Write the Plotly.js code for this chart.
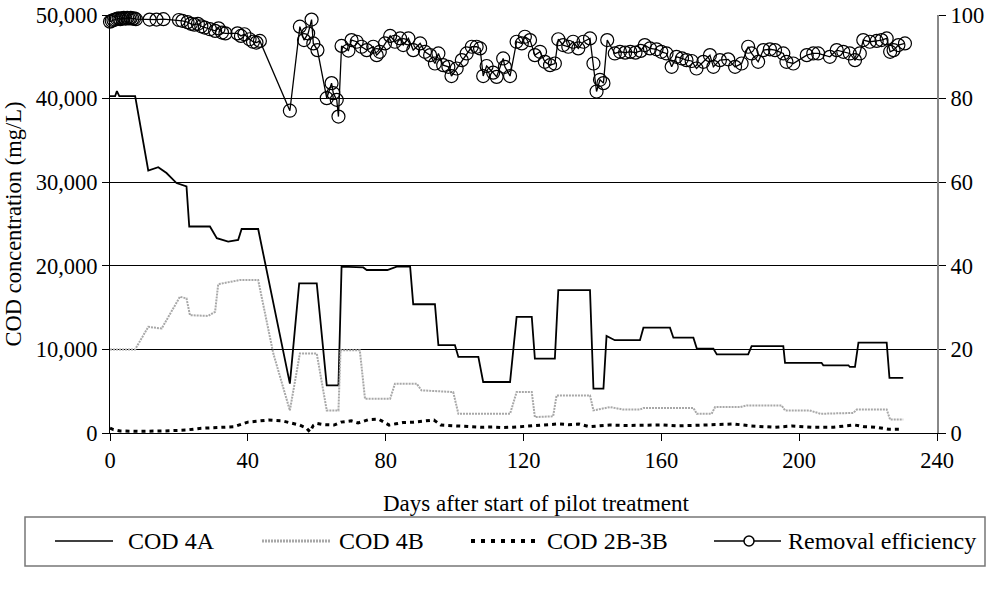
<!DOCTYPE html>
<html>
<head>
<meta charset="utf-8">
<script src="https://cdn.plot.ly/plotly-3.0.1.min.js"></script>
<style>html,body{margin:0;padding:0;background:#fff;}#chart{width:993px;height:592px;}</style>
</head>
<body>
<div id="chart"></div>
<script>
// ---- Data ----
const cod4A_days = [0,1.5,2,2.7,7.3,11.1,14.0,16.4,19.3,20.8,22.2,23.0,29.0,31.0,34.3,37.2,38.2,43.0,52.2,54.9,60.0,62.9,66.3,67.2,73.5,74.5,80.5,83.2,87.1,88.0,94.3,95.3,100.1,101.1,106.9,108.3,116.1,118.0,122.4,123.3,129.1,130.1,139.3,140.3,143.2,144.1,146.5,153.8,154.8,162.5,163.5,169.3,170.3,175.1,176.1,185.2,186.2,195.4,195.9,206.5,207.0,214.3,214.7,216.2,217.2,225.4,226.2,230.2];
const cod4A_vals = [40300,40300,40900,40300,40300,31400,31800,31100,29900,29700,29500,24700,24700,23300,22900,23100,24400,24400,5900,17900,17900,5700,5700,19900,19800,19500,19500,19900,19900,15400,15400,10500,10500,9100,9100,6100,6100,13900,13900,8900,8900,17100,17100,5300,5300,11600,11100,11100,12600,12600,11400,11400,10100,10100,9400,9400,10400,10400,8400,8400,8100,8100,7900,7900,10800,10800,6600,6600];

const cod4B_days = [0,7.3,11.1,15.0,20.3,22.2,23.2,28.5,30.5,31.4,37.7,43.0,47.4,52.2,55.1,60.0,62.9,66.3,66.9,72.5,74.0,81.3,82.7,89.0,90.4,99.6,101.1,116.1,118.0,122.4,123.3,128.6,129.6,139.3,140.3,143.2,145.1,149.0,153.8,154.8,169.3,170.3,174.6,175.6,182.8,184.8,194.9,195.9,203.0,206.2,215.7,216.7,225.4,226.4,230.2];
const cod4B_vals = [10000,10000,12700,12500,16300,16100,14100,14000,14500,17800,18300,18300,9500,2700,9500,9500,2700,2700,9900,9900,4100,4100,5900,5900,5100,4900,2300,2300,4900,4900,1900,2000,4500,4500,2700,2900,3100,2800,2800,3000,3000,2300,2300,3100,3100,3300,3300,2700,2700,2300,2400,2800,2800,1600,1600];

const cod2B3B_days = [0,1,3,8,16,22,26,30,36,40,43,46,50,53,55,57,58,59,60,62,65,67,70,72,75,78,81,83,85,88,91,94,96,99,102,105,108,111,114,117,120,124,127,130,133,136,139,142,145,150,155,160,165,170,175,181,186,190,193,198,201,204,210,213,216,219,222,226,230];
const cod2B3B_vals = [600,400,250,200,250,350,550,650,750,1300,1450,1550,1450,1150,950,600,150,900,1150,1000,950,1300,1450,1200,1600,1650,950,1100,1250,1300,1400,1550,950,900,850,750,680,720,650,700,780,850,950,1080,1000,1080,760,880,950,900,950,960,850,900,950,1080,850,750,680,840,750,680,700,800,960,750,700,450,450];

const eff_days = [0,0.5,1,1.5,2,2.5,3,3.5,4,4.5,5,5.5,6,6.5,7,7.5,11.5,13.5,15.5,20,21,22.5,23.5,24.5,25.5,26.5,27.5,29,30.5,31.5,32.5,33.5,37,38,39,40.5,41.5,42.5,43.5,52.2,55.1,56.3,57.5,58.5,59.0,60.2,62.9,64.3,64.8,65.8,66.3,67.2,69.2,70.1,71.6,73.0,74.5,76.4,77.4,78.3,79.8,81.3,82.7,84.2,85.1,86.6,88.0,90.0,91.4,92.9,94.3,95.3,96.7,98.2,99.1,100.6,102.1,103.5,105.0,106.4,107.4,108.3,109.3,111.2,112.2,114.1,114.6,116.1,118.0,119.5,120.4,121.9,123.3,124.8,126.2,127.7,129.1,130.1,131.5,133.0,134.4,135.9,137.4,139.3,140.3,141.2,142.2,143.2,144.3,146.5,148,149.5,151,152.5,154,155.2,156.7,158.6,160,161.5,163.0,164.4,166,167.3,168.8,170.2,172.2,174.1,175.1,177.0,179.4,181.4,183.3,185.2,186.2,188.1,189.6,191.5,193.0,195.4,196.3,198.3,202.2,204.1,205.5,208.9,210.9,212.8,214.7,216.2,217.6,218.6,220.5,222.5,223.9,225.4,226.4,227.4,228.8,230.7];
const eff_vals = [98.4,98.6,98.8,98.9,99.1,99.2,99.0,99.2,99.3,99.1,99.3,99.2,99.3,99.1,99.2,99.0,98.9,98.9,99.0,98.8,98.6,98.3,97.9,97.7,97.9,97.3,97.0,96.6,96.2,96.8,95.8,95.6,95.6,95.0,95.4,94.2,93.6,93.4,93.8,77.1,97.2,94.0,95.6,98.9,93.2,91.6,80.1,83.7,81.3,79.7,75.7,92.6,91.5,94.0,93.6,92.4,91.6,92.4,90.4,91.2,93.2,95.0,93.6,94.4,92.8,94.4,91.6,93.2,91.2,90.4,88.4,90.8,88.0,87.6,85.4,87.2,89.2,90.8,92.4,92.4,92.0,85.4,87.8,86.2,85.2,89.6,87.6,85.4,93.6,93.2,94.8,94.0,90.4,91.2,88.8,88.0,88.4,94.2,92.8,92.4,93.6,92.0,93.6,94.4,88.4,81.7,84.5,83.7,94.0,90.8,91.2,91.0,91.2,91.0,91.4,92.8,92.0,91.8,91.2,90.8,87.6,90.0,89.6,89.2,89.0,87.2,88.8,90.4,87.6,89.2,89.4,87.6,88.4,92.4,90.8,88.8,91.6,91.8,91.6,90.8,88.8,88.4,90.4,90.8,90.8,90.0,91.6,91.2,90.8,89.2,90.8,94.0,93.6,93.8,94.0,94.4,91.2,91.6,92.8,93.2];

const seriesNames = ["COD 4A","COD 4B","COD 2B-3B","Removal efficiency"];
const xTitle = "Days after start of pilot treatment";
const yTitle = "COD concentration (mg/L)";

// ---- Plot ----
const FONT = "'Liberation Serif', 'Times New Roman', Times, serif";
const FS = 22.5;
const W = 993, H = 592, L = 110, R = 56, T = 15, B = 159;
const pw = W - L - R, ph = H - T - B;
const px = x => (x - L) / pw;          // pixel -> paper x
const py = y => (H - B - y) / ph;      // pixel -> paper y

const traces = [
  {x: cod4A_days, y: cod4A_vals, name: seriesNames[0], type: 'scatter', mode: 'lines',
   line: {color: '#000', width: 1.8}, showlegend: false},
  {x: cod4B_days, y: cod4B_vals, name: seriesNames[1], type: 'scatter', mode: 'lines',
   line: {color: '#a8a8a8', width: 2, dash: '2px,1px'}, showlegend: false},
  {x: cod2B3B_days, y: cod2B3B_vals, name: seriesNames[2], type: 'scatter', mode: 'lines',
   line: {color: '#000', width: 3, dash: '4px,4px'}, showlegend: false},
  {x: eff_days, y: eff_vals, name: seriesNames[3], type: 'scatter', mode: 'lines+markers', yaxis: 'y2',
   cliponaxis: false,
   line: {color: '#000', width: 1.3},
   marker: {symbol: 'circle-open', size: 13, color: '#000', line: {width: 1.2, color: '#000'}},
   showlegend: false}
];

// manual legend (box, samples, labels)
const legY = py(541);
const shapes = [
  {type: 'rect', xref: 'paper', yref: 'paper', x0: px(25), x1: px(985), y0: py(566), y1: py(517),
   line: {color: '#777', width: 1.5}, fillcolor: 'rgba(0,0,0,0)'},
  {type: 'line', xref: 'paper', yref: 'paper', x0: px(55), x1: px(113), y0: legY, y1: legY,
   line: {color: '#000', width: 1.5}},
  {type: 'line', xref: 'paper', yref: 'paper', x0: px(262), x1: px(331), y0: legY, y1: legY,
   line: {color: '#a8a8a8', width: 3, dash: '2px,1px'}},
  {type: 'line', xref: 'paper', yref: 'paper', x0: px(471), x1: px(540), y0: legY, y1: legY,
   line: {color: '#000', width: 4, dash: '4px,6px'}},
  {type: 'line', xref: 'paper', yref: 'paper', x0: px(714), x1: px(781), y0: legY, y1: legY,
   line: {color: '#000', width: 1.5}},
  {type: 'circle', xref: 'paper', yref: 'paper', xsizemode: 'pixel', ysizemode: 'pixel',
   xanchor: px(749), yanchor: legY, x0: -5, x1: 5, y0: -5, y1: 5,
   line: {color: '#000', width: 1.5}, fillcolor: '#fff'}
];
const legTextX = [126, 337, 545, 786];
const annotations = seriesNames.map((n, i) => ({
  text: n, xref: 'paper', yref: 'paper', x: px(legTextX[i]), y: legY,
  xanchor: 'left', yanchor: 'middle', showarrow: false,
  font: {family: FONT, size: 24, color: '#000'}
}));
// x-axis title (placed slightly right of centre, as in the reference)
annotations.push({
  text: xTitle, xref: 'paper', yref: 'paper', x: px(536), y: py(503),
  xanchor: 'center', yanchor: 'middle', showarrow: false,
  font: {family: FONT, size: 23, color: '#000'}
});

const layout = {
  width: W, height: H,
  margin: {l: L, r: R, t: T, b: B, pad: 0},
  paper_bgcolor: '#fff', plot_bgcolor: '#fff',
  font: {family: FONT, size: FS, color: '#000'},
  showlegend: false,
  xaxis: {
    range: [0, 240], tick0: 0, dtick: 40, ticks: 'outside', ticklen: 7, tickcolor: '#000',
    showline: true, linecolor: '#000', linewidth: 1, showgrid: false, zeroline: false,
    tickfont: {family: FONT, size: FS}
  },
  yaxis: {
    range: [0, 50000], tick0: 0, dtick: 10000, tickformat: ',d', ticks: 'outside', ticklen: 7, tickcolor: '#000',
    showline: true, linecolor: '#000', linewidth: 1, showgrid: true, gridcolor: '#000', gridwidth: 1,
    zeroline: false, tickfont: {family: FONT, size: FS},
    title: {text: yTitle, font: {family: FONT, size: FS}, standoff: 7}
  },
  yaxis2: {
    overlaying: 'y', side: 'right', range: [0, 100], tick0: 0, dtick: 20,
    ticks: 'outside', ticklen: 7, tickcolor: '#000',
    showline: true, linecolor: '#888', linewidth: 2, showgrid: false, zeroline: false,
    tickfont: {family: FONT, size: FS}
  },
  shapes: shapes,
  annotations: annotations
};

Plotly.newPlot('chart', traces, layout, {displayModeBar: false, staticPlot: true});
</script>
</body>
</html>
